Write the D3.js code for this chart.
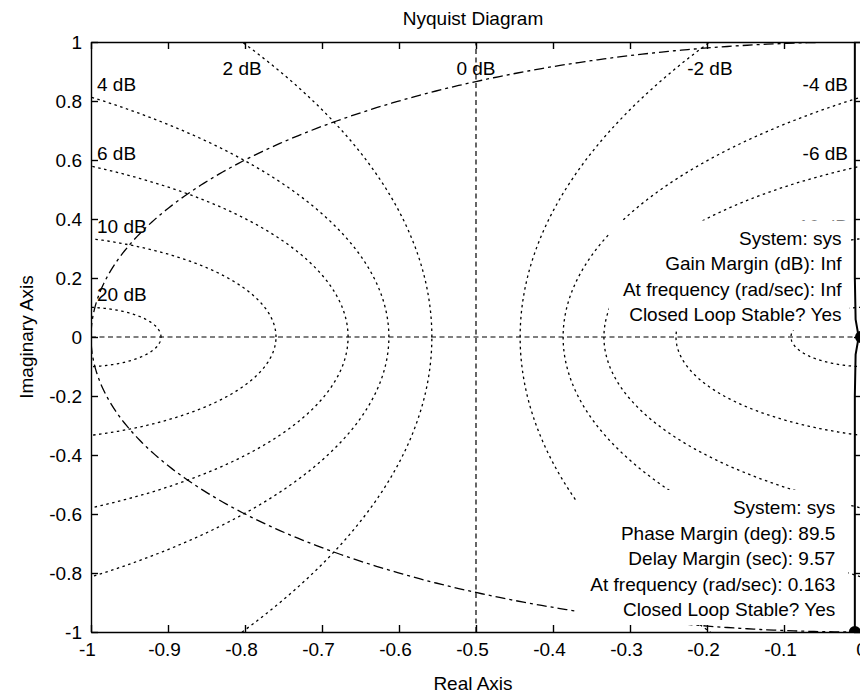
<!DOCTYPE html>
<meta charset="utf-8">
<script src="https://d3js.org/d3.v7.min.js"></script>
<style>
  body { margin: 0; background: #fff; }
  text { font-family: "Liberation Sans", Arial, sans-serif; font-size: 19px; fill: #000; }
</style>

<svg id="nyq"></svg>

<script>

// M-circle levels of the Nyquist grid (dB)
let gridDb = [-20, -10, -6, -4, -2, 0, 2, 4, 6, 10, 20];

// ticks and their labels
let xTicks = [-1, -0.9, -0.8, -0.7, -0.6, -0.5, -0.4, -0.3, -0.2, -0.1, 0];
let xTickLabels = ["-1", "-0.9", "-0.8", "-0.7", "-0.6", "-0.5", "-0.4", "-0.3", "-0.2", "-0.1", "0"];
let yTicks = [-1, -0.8, -0.6, -0.4, -0.2, 0, 0.2, 0.4, 0.6, 0.8, 1];
let yTickLabels = ["-1", "-0.8", "-0.6", "-0.4", "-0.2", "0", "0.2", "0.4", "0.6", "0.8", "1"];

// Nyquist curve (negative frequencies on top, positive below)
let nyqRe = [-0.008, -0.008, -0.008, -0.007, -0.004, 0, -0.004, -0.007, -0.008, -0.008, -0.008];
let nyqIm = [1.05, 0.6, 0.2, 0.06, 0.015, 0, -0.015, -0.06, -0.2, -0.6, -1.05];

// stability margin markers: gain margin point, phase margin point
let markRe = [0, -0.008];
let markIm = [0, -1];

// data tip texts
let gmTip = ["System: sys", "Gain Margin (dB): Inf", "At frequency (rad/sec): Inf", "Closed Loop Stable? Yes"];
let pmTip = ["System: sys", "Phase Margin (deg): 89.5", "Delay Margin (sec): 9.57", "At frequency (rad/sec): 0.163", "Closed Loop Stable? Yes"];

let svg = d3.select("#nyq"),
    width = 860,
    height = 694;

svg.attr("width", width).attr("height", height);

let plotL = 91, plotR = 861, plotT = 42, plotB = 632;

let x = d3.scaleLinear().domain([-1, 0]).range([plotL, plotR]);
let y = d3.scaleLinear().domain([-1, 1]).range([plotB, plotT]);

svg.append("clipPath").attr("id", "plotclip")
  .append("rect")
    .attr("x", plotL).attr("y", plotT)
    .attr("width", plotR - plotL).attr("height", plotB - plotT);

let plot = svg.append("g").attr("clip-path", "url(#plotclip)");

let line = d3.line().x(d => x(d[0])).y(d => y(d[1]));
let angles = d3.range(0, 360.5, 0.5).map(d => d * Math.PI / 180);

// real axis line
plot.append("path")
  .attr("d", line([[-1, 0], [0, 0]]))
  .attr("fill", "none").attr("stroke", "#000").attr("stroke-width", 1.2)
  .attr("stroke-dasharray", "5,3.5");

// M-circles and their labels
let labels = svg.append("g");
gridDb.forEach(db => {
  let lab = db + " dB";
  if (db === 0) {
    plot.append("path")
      .attr("d", line([[-0.5, -1], [-0.5, 1]]))
      .attr("fill", "none").attr("stroke", "#000").attr("stroke-width", 1.2)
      .attr("stroke-dasharray", "5,3.5");
    labels.append("text").attr("x", x(-0.5)).attr("y", plotT + 33)
      .attr("text-anchor", "middle").text(lab);
    return;
  }
  let m = Math.pow(10, db / 20),
      c = -m * m / (m * m - 1),
      r = Math.abs(m / (m * m - 1));
  plot.append("path")
    .attr("d", line(angles.map(a => [c + r * Math.cos(a), r * Math.sin(a)])))
    .attr("fill", "none").attr("stroke", "#000").attr("stroke-width", 1.3)
    .attr("stroke-dasharray", "2.5,3.5");

  // where the circle leaves the axes box
  let topX = r >= 1 ? (db > 0 ? c + Math.sqrt(r * r - 1) : c - Math.sqrt(r * r - 1)) : NaN;
  if (!isNaN(topX) && topX >= -1 && topX <= 0) {
    labels.append("text").attr("x", x(topX)).attr("y", plotT + 33)
      .attr("text-anchor", "middle").text(lab);
  } else if (db > 0) {
    let yy = Math.sqrt(r * r - (-1 - c) * (-1 - c));
    labels.append("text").attr("x", x(-1) + 6).attr("y", y(yy) - 6).text(lab);
  } else {
    let yy = Math.sqrt(r * r - c * c);
    labels.append("text").attr("x", x(0) - 13).attr("y", y(yy) - 6)
      .attr("text-anchor", "end").text(lab);
  }
});

// unit circle
plot.append("path")
  .attr("d", line(angles.map(a => [Math.cos(a), Math.sin(a)])))
  .attr("fill", "none").attr("stroke", "#000").attr("stroke-width", 1.3)
  .attr("stroke-dasharray", "10,4,3,4");

// Nyquist curve
plot.append("path")
  .attr("d", line(nyqRe.map((d, i) => [d, nyqIm[i]])))
  .attr("fill", "none").attr("stroke", "#000").attr("stroke-width", 2);

// margin markers
plot.selectAll("circle.mark")
  .data(markRe.map((d, i) => [d, markIm[i]]))
  .enter().append("circle")
    .attr("class", "mark")
    .attr("cx", d => x(d[0])).attr("cy", d => y(d[1]))
    .attr("r", 6).attr("fill", "#000");

// data tips
function dataTip(lines, ax, ay, padR) {
  let g = svg.append("g");
  let rect = g.append("rect").attr("fill", "#fff");
  let right = ax - 19.5, lastBase = ay - 16, step = 25.5;
  let firstBase = lastBase - step * (lines.length - 1);
  let maxW = 0;
  lines.forEach((t, i) => {
    let tx = g.append("text").attr("x", right).attr("y", firstBase + i * step)
      .attr("text-anchor", "end").text(t);
    maxW = Math.max(maxW, tx.node().getComputedTextLength());
  });
  rect.attr("x", right - maxW - 14).attr("y", firstBase - 24)
    .attr("width", maxW + 14 + padR).attr("height", lastBase - firstBase + 33);
}
dataTip(gmTip, x(markRe[0]), y(markIm[0]), 8);
dataTip(pmTip, x(markRe[1]), y(markIm[1]), 13);

// axes box with inward ticks
let axes = svg.append("g");
axes.append("g").attr("transform", `translate(0,${plotB})`)
  .call(d3.axisBottom(x).tickValues(xTicks).tickFormat((d, i) => xTickLabels[i])
    .tickSize(-7).tickSizeOuter(0).tickPadding(11))
  .selectAll("text").attr("dx", d => d < 0 ? -4 : 0);
axes.append("g").attr("transform", `translate(${plotL},0)`)
  .call(d3.axisLeft(y).tickValues(yTicks).tickFormat((d, i) => yTickLabels[i])
    .tickSize(-7).tickSizeOuter(0).tickPadding(9));
axes.append("g").attr("transform", `translate(0,${plotT})`)
  .call(d3.axisTop(x).tickValues(xTicks).tickFormat("").tickSize(-7).tickSizeOuter(0));
axes.append("g").attr("transform", `translate(${plotR},0)`)
  .call(d3.axisRight(y).tickValues(yTicks).tickFormat("").tickSize(-7).tickSizeOuter(0));
axes.selectAll("path, line").attr("stroke", "#000").attr("stroke-width", 1.4);

// titles
svg.append("text").attr("x", 473).attr("y", 25).attr("text-anchor", "middle").text("Nyquist Diagram");
svg.append("text").attr("x", 473).attr("y", 690).attr("text-anchor", "middle").text("Real Axis");
svg.append("text").attr("transform", "translate(33,337) rotate(-90)")
  .attr("text-anchor", "middle").text("Imaginary Axis");

</script>
